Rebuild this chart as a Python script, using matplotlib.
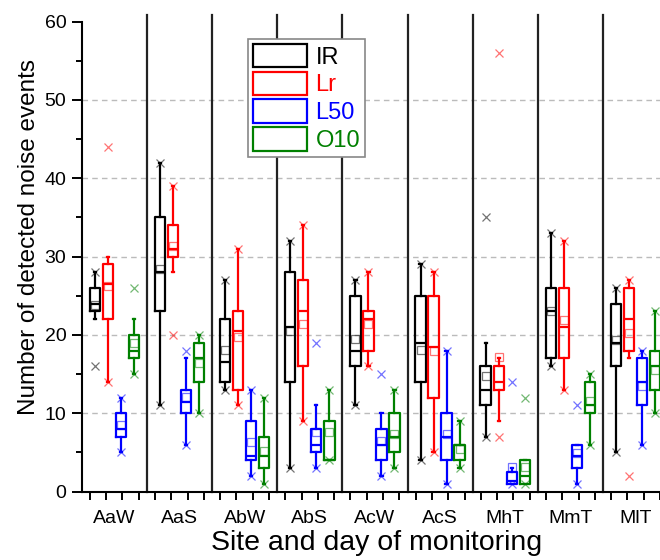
import matplotlib
matplotlib.use("Agg")
import matplotlib.pyplot as plt
import matplotlib.patches as mpatches
import numpy as np

plt.rcParams["font.family"] = ["Liberation Sans", "DejaVu Sans"]

# ---------------------------------------------------------------------------
# Data
# ---------------------------------------------------------------------------

SITES = ["AaW", "AaS", "AbW", "AbS", "AcW", "AcS", "MhT", "MmT", "MlT"]
SERIES = ["IR", "Lr", "L50", "O10"]
COLOURS = ["#000000", "#FF0000", "#0000FF", "#008000"]

IR_WLO = [22, 11, 13, 3, 11, 4, 7, 16, 5]
IR_Q1 = [23, 23, 14, 14, 16, 14, 11, 17, 16]
IR_MED = [24, 28, 16.5, 21, 18, 19, 13, 23, 19]
IR_Q3 = [26, 35, 22, 28, 25, 25, 16, 26, 24]
IR_WHI = [28, 42, 27, 32, 27, 29, 19, 33, 26]
IR_MEAN = [23.8, 28.4, 18.1, 20.5, 19.5, 18.1, 14.7, 23.0, 19.3]
IR_X = [[28, 16], [42, 11], [27, 13], [32, 3], [27, 11], [29, 4], [35, 7], [33, 16], [26, 5]]

LR_WLO = [14, 28, 11, 9, 16, 5, 9, 13, 17]
LR_Q1 = [22, 30, 13, 16, 18, 12, 13, 17, 18]
LR_MED = [26.5, 31, 20.5, 23, 22, 18.5, 14, 21, 22]
LR_Q3 = [29, 34, 23, 27, 23, 25, 16, 26, 26]
LR_WHI = [30, 39, 31, 34, 28, 28, 17, 32, 27]
LR_MEAN = [26.3, 31.3, 19.7, 21.4, 21.4, 18.0, 17.2, 21.9, 20.3]
LR_X = [[14, 44], [39, 20], [31, 11], [34, 9], [28, 16], [28, 5], [56, 7], [32, 13], [27, 2]]

L50_WLO = [5, 6, 2, 3, 2, 1, 1, 1, 6]
L50_Q1 = [7, 10, 4, 5, 4, 4, 1, 3, 11]
L50_MED = [8, 11.5, 4.5, 6, 6, 7, 1.3, 4.5, 14]
L50_Q3 = [10, 13, 9, 8, 8, 10, 2.5, 6, 17]
L50_WHI = [12, 17, 13, 11, 10, 18, 3, 6, 18]
L50_MEAN = [8.5, 12.1, 6.3, 7.6, 6.5, 7.4, 3.2, 4.9, 13.5]
L50_X = [[12, 5], [18, 6], [13, 2], [19, 3], [15, 2], [18, 1], [14, 1], [11, 1], [18, 6]]

O10_WLO = [15, 10, 1, 4, 3, 3, 1, 6, 10]
O10_Q1 = [17, 14, 3, 4, 5, 4, 1, 10, 13]
O10_MED = [18, 17, 4.5, 4, 7, 6, 2, 11, 16]
O10_Q3 = [20, 19, 7, 9, 10, 6, 4, 14, 18]
O10_WHI = [22, 20, 12, 13, 13, 9, 4, 15, 23]
O10_MEAN = [19, 16.4, 5.2, 7.6, 7.4, 5.5, 3.2, 11.6, 15.5]
O10_X = [[15, 26], [20, 10], [12, 1], [13, 4], [13, 3], [9, 3], [1, 12], [15, 6], [23, 10]]

DATA = [
    (IR_WLO, IR_Q1, IR_MED, IR_Q3, IR_WHI, IR_MEAN, IR_X),
    (LR_WLO, LR_Q1, LR_MED, LR_Q3, LR_WHI, LR_MEAN, LR_X),
    (L50_WLO, L50_Q1, L50_MED, L50_Q3, L50_WHI, L50_MEAN, L50_X),
    (O10_WLO, O10_Q1, O10_MED, O10_Q3, O10_WHI, O10_MEAN, O10_X),
]

# ---------------------------------------------------------------------------
# Figure
# ---------------------------------------------------------------------------

fig = plt.figure(figsize=(6.6, 5.6), dpi=100)
ax = fig.add_axes([0.1238, 0.122, 1 - 0.1238, 0.9616 - 0.122])

centers = np.arange(len(SITES))
offsets = [-0.3, -0.1, 0.1, 0.3]

# dashed grid
for y in [10, 20, 30, 40, 50]:
    ax.axhline(y, color="#BBBBBB", lw=1.0, ls=(0, (4, 3)), zorder=0)

# group separators
for s in centers[:-1] + 0.5:
    ax.plot([s, s], [0, 60.8], color="#222222", lw=1.6, clip_on=False, zorder=1)

for i, (wlo, q1, med, q3, whi, mean, xm) in enumerate(DATA):
    col = COLOURS[i]
    stats = []
    for k in range(len(SITES)):
        stats.append(dict(whislo=wlo[k], q1=q1[k], med=med[k], q3=q3[k],
                          whishi=whi[k], mean=mean[k], fliers=[]))
    ax.bxp(stats, positions=centers + offsets[i], widths=0.16,
           showmeans=True, showfliers=False, manage_ticks=False,
           capwidths=0.035,
           boxprops=dict(color=col, lw=1.6),
           whiskerprops=dict(color=col, lw=1.6),
           capprops=dict(color=col, lw=1.6),
           medianprops=dict(color=col, lw=1.6),
           meanprops=dict(marker="s", markerfacecolor="none",
                          markeredgecolor=col, markersize=5.5,
                          markeredgewidth=0.9, alpha=0.55))
    for k in range(len(SITES)):
        ax.plot([centers[k] + offsets[i]] * len(xm[k]), xm[k], ls="none",
                marker="x", color=col, ms=5.5, mew=0.9, alpha=0.55, zorder=3)

ax.set_xlim(-0.5, 8.34)
ax.set_ylim(0, 60)

# spines
for side in ["top", "right"]:
    ax.spines[side].set_visible(False)
for side in ["left", "bottom"]:
    ax.spines[side].set_linewidth(1.5)

# x ticks: four unlabeled ticks per group, labels at the group centre
xt = np.concatenate([c + np.array([-0.375, -0.125, 0.125, 0.375]) for c in centers])
ax.set_xticks(xt)
ax.set_xticklabels([])
ax.set_xticks(centers, minor=True)
ax.set_xticklabels(SITES, minor=True, fontsize=14)
ax.tick_params(axis="x", which="major", direction="out", length=6, width=1.4)
ax.tick_params(axis="x", which="minor", length=0, pad=13)

ax.set_yticks(np.arange(0, 61, 10))
ax.set_yticks(np.arange(5, 60, 10), minor=True)
ax.tick_params(axis="y", which="major", direction="out", length=7, width=1.4,
               labelsize=14, pad=4)
ax.tick_params(axis="y", which="minor", direction="out", length=4, width=1.4)

ax.set_xlabel("Site and day of monitoring", fontsize=20.5)
ax.xaxis.set_label_coords(4.5 / 8.84, -0.082)
ax.set_ylabel("Number of detected noise events", fontsize=17.5)
ax.yaxis.set_label_coords(-0.072, 0.542)

handles = [mpatches.Patch(facecolor="white", edgecolor=c, lw=1.6, label=s)
           for s, c in zip(SERIES, COLOURS)]
leg = fig.legend(handles=handles, loc="upper left",
                 bbox_to_anchor=(0.376, 0.93), fontsize=17,
                 handlelength=2.3, handleheight=1.15, labelspacing=0.13,
                 handletextpad=0.35, borderpad=0.2, borderaxespad=0,
                 fancybox=False, framealpha=1, edgecolor="#888888")
leg.get_frame().set_linewidth(1.2)
for t, c in zip(leg.get_texts(), COLOURS):
    t.set_color(c)

fig.savefig("out.png", dpi=100)
